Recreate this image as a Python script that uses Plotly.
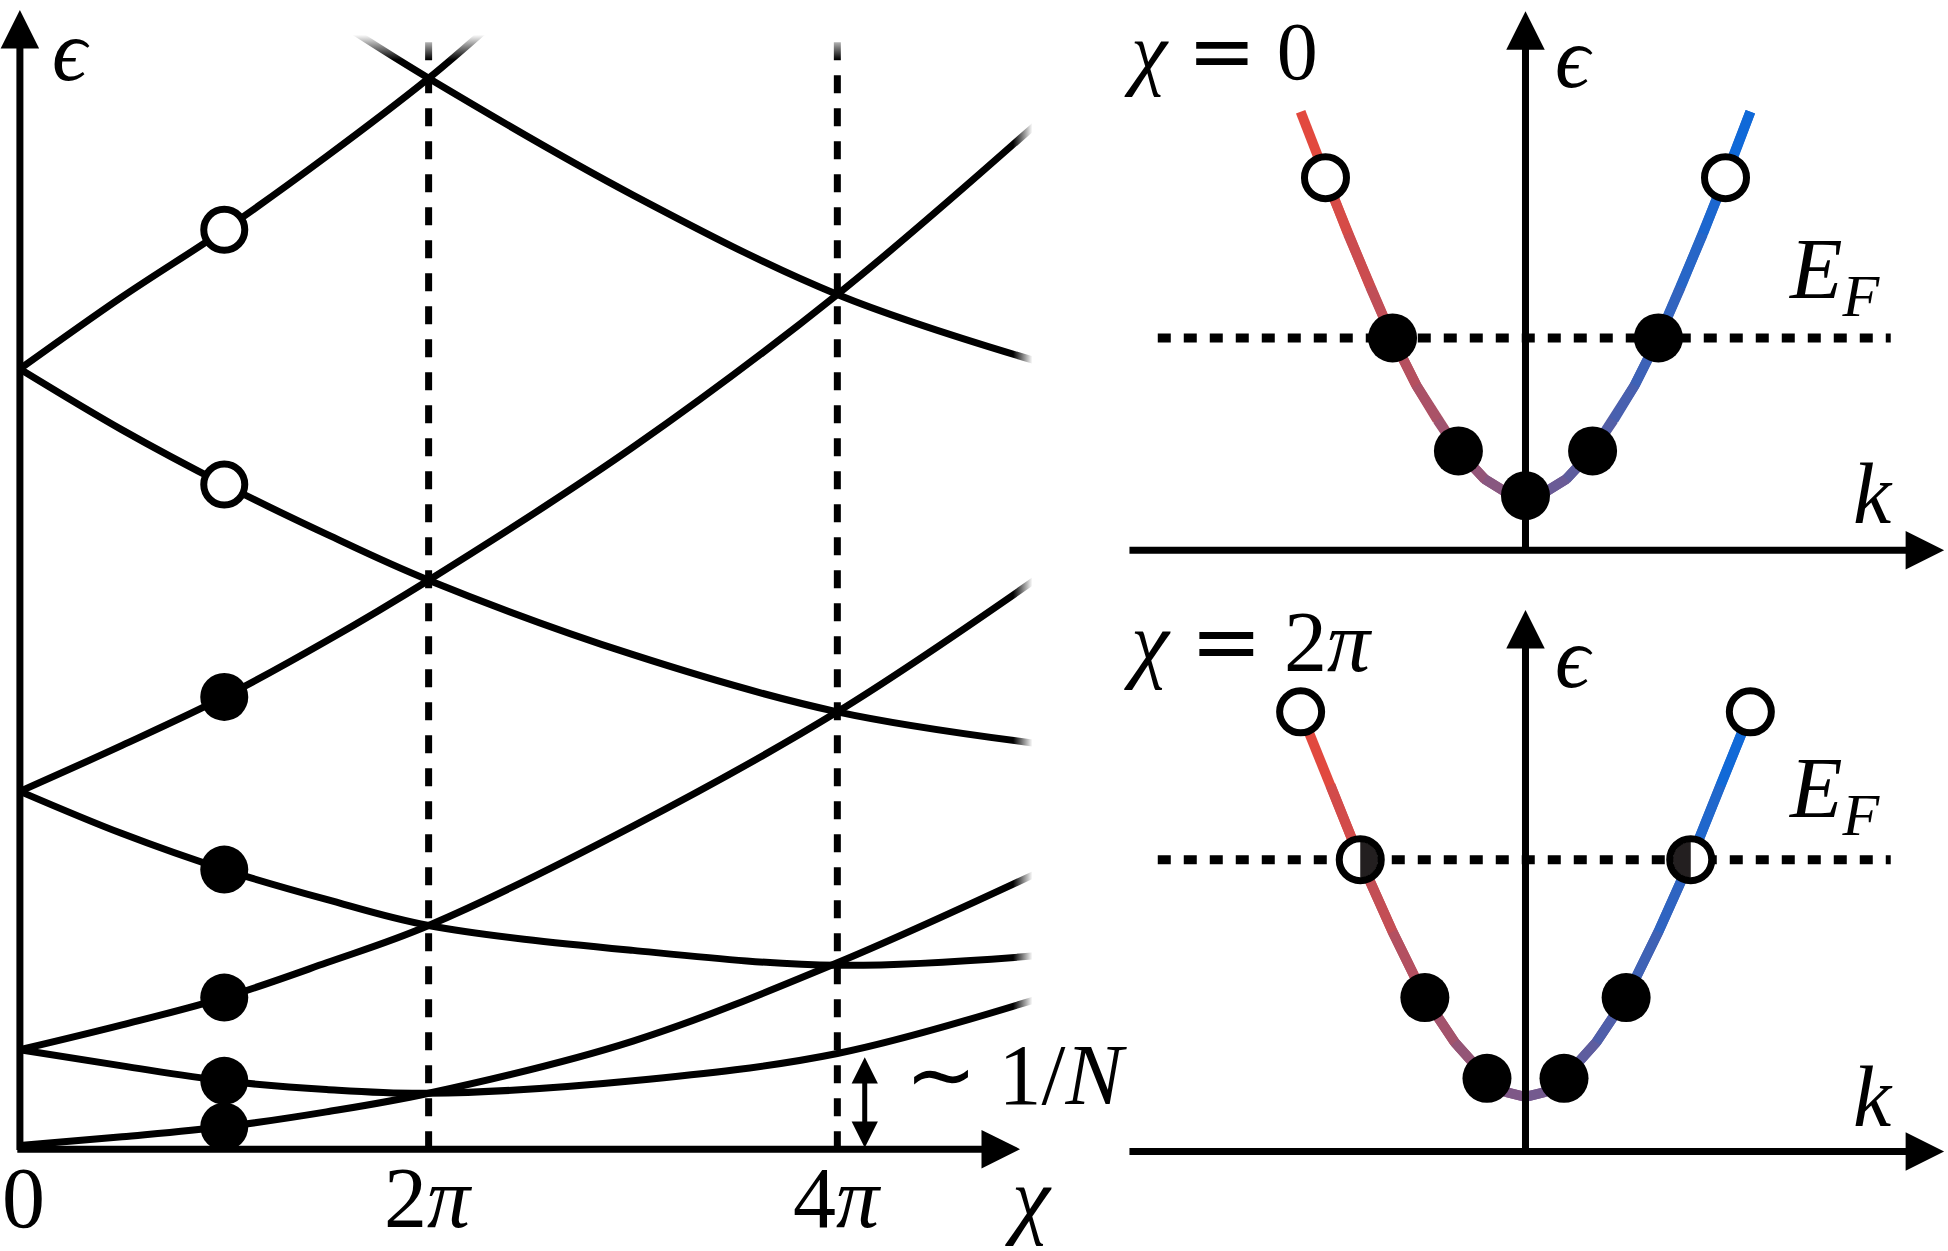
import numpy as np
import plotly.graph_objects as go

# ---- left panel: levels vs flux (chi in units of pi) ----
chi = [0, 0.5, 1, 1.5, 2, 3, 4, 5]
band_a = [0.03, 0.10, 0.18, 0.30, 0.45, 0.87, 1.50, 2.24]
band_b_up = [0.80, 1.00, 1.22, 1.50, 1.80, 2.60, 3.52, 4.62]
band_b_dn = [0.80, 0.67, 0.55, 0.48, 0.45, 0.55, 0.77, 1.22]
band_c_up = [2.88, 3.25, 3.64, 4.09, 4.58, 5.65, 6.88, 8.29]
band_c_dn = [2.88, 2.54, 2.25, 2.01, 1.80, 1.60, 1.48, 1.56]
band_d_dn = [6.28, 5.79, 5.35, 4.95, 4.58, 3.98, 3.52, 3.26]
chi_d_up = [0, 0.5, 1, 1.5, 2, 2.27]
band_d_up = [6.28, 6.86, 7.40, 7.99, 8.62, 9.00]
chi_e_dn = [1.63, 2, 3, 4, 5]
band_e_dn = [9.00, 8.62, 7.68, 6.88, 6.33]

chi_marked = [2, 4]
chi_dots = 1
filled_left = [0.18, 0.55, 1.22, 2.25, 3.64]
empty_left = [5.35, 7.40]

# ---- right panels: dispersion at chi = 0 and chi = 2pi ----
k_top = [-1.81, -1.61, -1.43, -1.25, -1.07, -0.88, -0.71, -0.54, -0.33, -0.16, 0,
         0.16, 0.33, 0.54, 0.71, 0.88, 1.07, 1.25, 1.43, 1.61, 1.81]
e_top = [3.53, 3.00, 2.55, 2.12, 1.71, 1.33, 1.05, 0.80, 0.575, 0.47, 0.44,
         0.47, 0.575, 0.80, 1.05, 1.33, 1.71, 2.12, 2.55, 3.00, 3.53]
k_bot = [-1.81, -1.57, -1.33, -1.07, -0.81, -0.57, -0.31, -0.16, 0,
         0.16, 0.31, 0.57, 0.81, 1.07, 1.33, 1.57, 1.81]
e_bot = [3.54, 2.95, 2.35, 1.77, 1.24, 0.88, 0.59, 0.48, 0.44,
         0.48, 0.59, 0.88, 1.24, 1.77, 2.35, 2.95, 3.54]

ef_top = 1.71
ef_bot = 2.35

top_filled_k = [0, -0.54, 0.54, -1.07, 1.07]
top_filled_e = [0.44, 0.80, 0.80, 1.71, 1.71]
top_empty_k = [-1.61, 1.61]
top_empty_e = [3.00, 3.00]

bot_filled_k = [-0.31, 0.31, -0.81, 0.81]
bot_filled_e = [0.59, 0.59, 1.24, 1.24]
bot_half_k = [-1.33, 1.33]
bot_half_e = [2.35, 2.35]
bot_empty_k = [-1.81, 1.81]
bot_empty_e = [3.54, 3.54]

W, H = 1948, 1251
FONT = 'Liberation Serif'
FS = 86
RED = np.array([232, 72, 58])
BLUE = np.array([10, 106, 220])

fig = go.Figure()


def line(x, y, xa='x', ya='y', **kw):
    fig.add_trace(go.Scatter(x=x, y=y, mode='lines', xaxis=xa, yaxis=ya,
                             hoverinfo='skip', line=kw))


def dots(x, y, xa, ya, empty=False, size=48):
    if empty:
        marker = dict(size=size - 7, color='white', line=dict(color='black', width=7))
    else:
        marker = dict(size=size, color='black')
    fig.add_trace(go.Scatter(x=x, y=y, mode='markers', xaxis=xa, yaxis=ya,
                             hoverinfo='skip', marker=marker))


def fade(x0, x1, y0, y1, orient, start, stop):
    fig.add_trace(go.Scatter(x=[x0, x1, x1, x0, x0], y=[y0, y0, y1, y1, y0],
                             mode='lines', line=dict(width=0), fill='toself',
                             fillgradient=dict(type=orient, start=start, stop=stop,
                                               colorscale=[[0, 'rgba(255,255,255,0)'],
                                                           [1, 'rgba(255,255,255,1)']]),
                             hoverinfo='skip', xaxis='x', yaxis='y'))


def band_colour(k):
    t = (k + 1.81) / 3.62
    c = RED * (1 - t) + BLUE * t
    return f'rgb({c[0]:.0f},{c[1]:.0f},{c[2]:.0f})'


def dispersion(k, e, xa, ya):
    for i in range(len(k) - 1):
        line(k[i:i + 3], e[i:i + 3], xa, ya,
             color=band_colour((k[i] + k[i + 1]) / 2), width=10)


# left panel
for c in chi_marked:
    line([c, c], [0, 9.0], color='black', width=7, dash='18px,15px')
for y in [band_a, band_b_up, band_b_dn, band_c_up, band_c_dn, band_d_dn]:
    line(chi, y, color='black', width=7, shape='spline')
line(chi_d_up, band_d_up, color='black', width=7, shape='spline')
line(chi_e_dn, band_e_dn, color='black', width=7, shape='spline')
fade(4.80, 5.10, 1.05, 9.0, 'horizontal', 4.86, 4.955)
fade(1.40, 4.30, 8.60, 9.10, 'vertical', 8.77, 8.97)
dots([chi_dots] * len(filled_left), filled_left, 'x', 'y')
dots([chi_dots] * len(empty_left), empty_left, 'x', 'y', empty=True)

# right panels
line([-2.96, 2.94], [ef_top, ef_top], 'x2', 'y2', color='black', width=9, dash='13px,13px')
line([-2.96, 2.94], [ef_bot, ef_bot], 'x3', 'y3', color='black', width=9, dash='13px,13px')
dispersion(k_top, e_top, 'x2', 'y2')
dispersion(k_bot, e_bot, 'x3', 'y3')
dots(top_filled_k, top_filled_e, 'x2', 'y2', size=49)
dots(top_empty_k, top_empty_e, 'x2', 'y2', empty=True, size=49)
dots(bot_filled_k, bot_filled_e, 'x3', 'y3', size=49)
dots(bot_empty_k, bot_empty_e, 'x3', 'y3', empty=True, size=49)
fig.add_trace(go.Scatter(x=bot_half_k, y=bot_half_e, mode='markers', xaxis='x3', yaxis='y3',
                         hoverinfo='skip', marker=dict(size=42, color='white')))
a = np.linspace(-np.pi / 2, np.pi / 2, 31)
for kc, ec in zip(bot_half_k, bot_half_e):
    side = 1 if kc < 0 else -1
    fig.add_trace(go.Scatter(x=kc + side * 0.145 * np.cos(a), y=ec + 0.145 * np.sin(a),
                             mode='lines', fill='toself', fillcolor='#231f20',
                             line=dict(width=0), hoverinfo='skip', xaxis='x3', yaxis='y3'))
fig.add_trace(go.Scatter(x=bot_half_k, y=bot_half_e, mode='markers', xaxis='x3', yaxis='y3',
                         hoverinfo='skip',
                         marker=dict(size=42, color='rgba(0,0,0,0)',
                                     line=dict(color='black', width=7))))

# axes as arrows
ann = []


def arrow(x0, y0, x1, y1, xr, yr, width=7, size=1.1, both=False):
    ann.append(dict(x=x1, y=y1, ax=x0, ay=y0, xref=xr, yref=yr, axref=xr, ayref=yr,
                    text='', showarrow=True, arrowhead=2, arrowsize=size,
                    arrowwidth=width, arrowcolor='black', standoff=0, startstandoff=0,
                    arrowside='end+start' if both else 'end', startarrowhead=2,
                    startarrowsize=size))


arrow(0, -0.02, 0, 9.17, 'x', 'y')
arrow(-0.02, 0, 4.894, 0, 'x', 'y')
arrow(4.134, 0.0, 4.134, 0.74, 'x', 'y', width=5, size=1.05, both=True)
arrow(0, 0, 0, 4.34, 'x2', 'y2')
arrow(-3.2, 0, 3.37, 0, 'x2', 'y2')
arrow(0, 0, 0, 4.36, 'x3', 'y3')
arrow(-3.2, 0, 3.37, 0, 'x3', 'y3')


def label(text, x, y, xr, yr, xanchor='center', size=FS):
    ann.append(dict(x=x, y=y, xref=xr, yref=yr, text=text, showarrow=False,
                    xanchor=xanchor, yanchor='middle',
                    font=dict(family=FONT, size=size, color='black')))


EQ = '<span style="font-family:DejaVu Sans">=</span>'

label('<i>ϵ</i>', 0.25, 8.84, 'x', 'y')
label('0', 0.02, -0.39, 'x', 'y')
label('2<i>π</i>', 2, -0.39, 'x', 'y')
label('4<i>π</i>', 4, -0.39, 'x', 'y')
label('<i>χ</i>', 4.936, -0.39, 'x', 'y')
label('∼ 1/<i>N</i>', 4.32, 0.60, 'x', 'y', xanchor='left')

label('<i>χ</i> ' + EQ + ' 0', -3.25, 4.02, 'x2', 'y2', xanchor='left', size=82)
label('<i>ϵ</i>', 0.39, 3.96, 'x2', 'y2')
label('<i>E</i><sub><i>F</i></sub>', 2.10, 2.22, 'x2', 'y2', xanchor='left')
label('<i>k</i>', 2.80, 0.45, 'x2', 'y2')

label('<i>χ</i> ' + EQ + ' 2<i>π</i>', -3.25, 4.11, 'x3', 'y3', xanchor='left')
label('<i>ϵ</i>', 0.39, 3.97, 'x3', 'y3')
label('<i>E</i><sub><i>F</i></sub>', 2.10, 2.88, 'x3', 'y3', xanchor='left')
label('<i>k</i>', 2.80, 0.44, 'x3', 'y3')

hidden = dict(visible=False, showgrid=False, zeroline=False, fixedrange=True)
split = 1100 / W
fig.update_layout(
    width=W, height=H, margin=dict(l=0, r=0, t=0, b=0),
    paper_bgcolor='white', plot_bgcolor='white', showlegend=False,
    annotations=ann,
    xaxis=dict(hidden, domain=[0, split], range=[-0.0974, 5.2853]),
    yaxis=dict(hidden, domain=[0, 1], range=[-0.820, 9.250]),
    xaxis2=dict(hidden, domain=[split, 1], range=[-3.425, 3.401], anchor='y2'),
    yaxis2=dict(hidden, domain=[1 - 620 / H, 1], range=[-0.561, 4.430], anchor='x2'),
    xaxis3=dict(hidden, domain=[split, 1], range=[-3.425, 3.401], anchor='y3'),
    yaxis3=dict(hidden, domain=[0, 1 - 620 / H], range=[-0.800, 4.279], anchor='x3'),
)

fig.write_html("out.html", config={'displayModeBar': False},
               post_script="document.body.style.margin='0px';")
